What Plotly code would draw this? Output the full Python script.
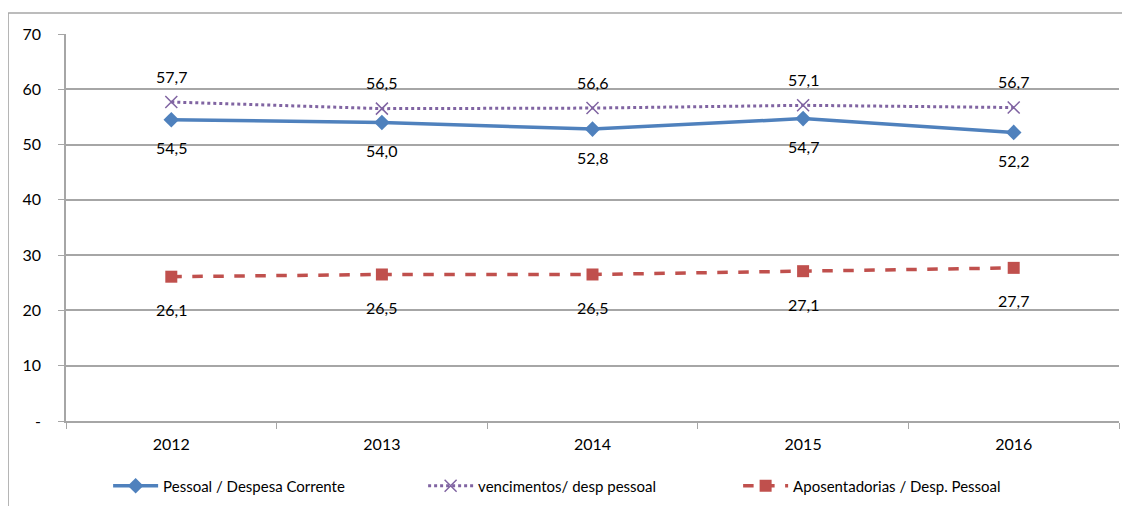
import plotly.graph_objects as go

years = ["2012", "2013", "2014", "2015", "2016"]
pessoal = [54.5, 54.0, 52.8, 54.7, 52.2]
vencimentos = [57.7, 56.5, 56.6, 57.1, 56.7]
aposentadorias = [26.1, 26.5, 26.5, 27.1, 27.7]
y_ticks = [0, 10, 20, 30, 40, 50, 60, 70]
y_ticktext = ["-", "10", "20", "30", "40", "50", "60", "70"]

FONT = "Lato, 'Open Sans', sans-serif"
GRID = "#A6A6A6"
FS = 16

fig = go.Figure()
fig.add_trace(go.Scatter(
    x=years, y=pessoal, name="Pessoal / Despesa Corrente", mode="lines+markers",
    line=dict(color="#4F81BD", width=3.5),
    marker=dict(symbol="diamond", size=12, color="#4F81BD")))
fig.add_trace(go.Scatter(
    x=years, y=vencimentos, name="vencimentos/ desp pessoal", mode="lines+markers",
    line=dict(color="#8064A2", width=3, dash="dot"),
    marker=dict(symbol="x-thin-open", size=12, line=dict(color="#8064A2", width=1.5))))
fig.add_trace(go.Scatter(
    x=years, y=aposentadorias, name="Aposentadorias / Desp. Pessoal", mode="lines+markers",
    line=dict(color="#C0504D", width=3.5, dash="dash"),
    marker=dict(symbol="square", size=12, color="#C0504D")))

annotations = []
for series, shift in ((pessoal, -28), (vencimentos, 26), (aposentadorias, -33)):
    for i, v in enumerate(series):
        annotations.append(dict(
            x=i, y=v, xref="x", yref="y", text=f"{v:.1f}".replace(".", ","),
            showarrow=False, yshift=shift,
            font=dict(family=FONT, size=FS, color="black")))

border = dict(color=GRID, width=1.5)
fig.update_layout(
    width=1122, height=498,
    margin=dict(l=58, r=11, t=26, b=85, autoexpand=False),
    paper_bgcolor="white", plot_bgcolor="white",
    font=dict(family=FONT, size=FS, color="black"),
    separators=",.",
    annotations=annotations,
    showlegend=True,
    legend=dict(orientation="h", x=0.04, xanchor="left", y=-0.168, yanchor="middle",
                font=dict(family=FONT, size=15, color="black"),
                itemwidth=45, entrywidth=255, entrywidthmode="pixels"),
    shapes=[
        dict(type="line", xref="paper", yref="paper", x0=-0.055, x1=-0.055,
             y0=-0.26, y1=1.054, line=border, layer="below"),
        dict(type="line", xref="paper", yref="paper", x0=-0.055, x1=1.06,
             y0=1.054, y1=1.054, line=border, layer="below"),
    ],
)
fig.update_xaxes(
    type="category", showgrid=False, showline=True, linecolor=GRID, linewidth=1.5,
    ticks="outside", tickson="boundaries", ticklen=6, tickcolor=GRID,
    ticklabelstandoff=8, automargin=False,
    tickfont=dict(family=FONT, size=FS, color="black"), range=[-0.5, 4.5])
fig.update_yaxes(
    range=[0, 70], tickvals=y_ticks, ticktext=y_ticktext,
    showgrid=True, gridcolor=GRID, gridwidth=1.5,
    showline=True, linecolor=GRID, linewidth=1.5,
    ticks="outside", ticklen=6, tickcolor=GRID, zeroline=False,
    ticklabelstandoff=14, automargin=False,
    tickfont=dict(family=FONT, size=FS, color="black"))

fig.write_html("out.html")
